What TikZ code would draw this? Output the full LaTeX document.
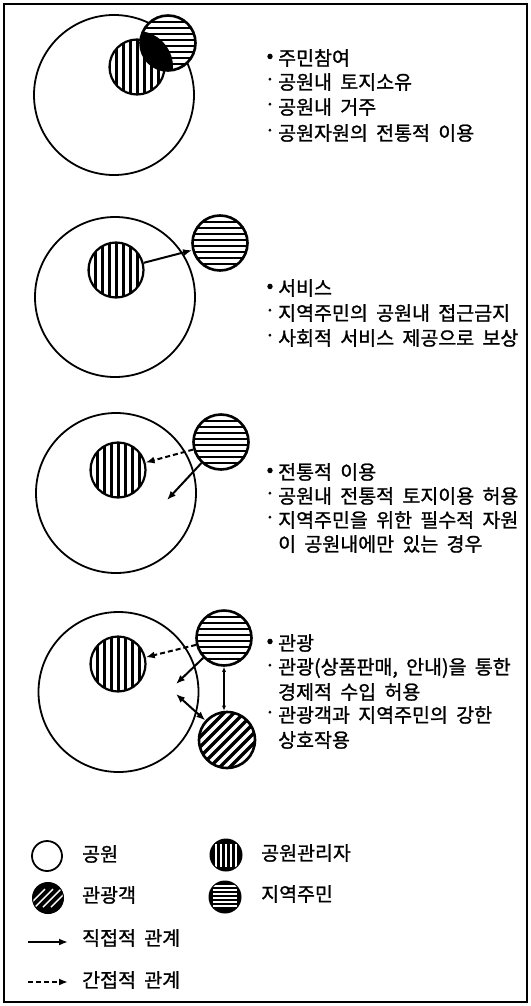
\documentclass[tikz,border=0pt]{standalone}
\usepackage{fontspec}
\setmainfont{Noto Sans CJK KR}[WordSpace=1.9,FakeBold=1.2]
\usetikzlibrary{arrows.meta}
\begin{document}
\begin{tikzpicture}[x=1pt,y=-1pt,
  park/.style={circle,draw,line width=1.8pt,minimum size=160pt,inner sep=0pt},
  mgr/.style={circle,draw,line width=2.2pt,fill=white,minimum size=55pt,inner sep=0pt,
    path picture={\foreach \i in {-28,-21,...,28}
      \draw[line width=3pt,black] ([xshift=\i pt]path picture bounding box.north) -- ([xshift=\i pt]path picture bounding box.south);}},
  res/.style={circle,draw,line width=2.6pt,fill=white,minimum size=55pt,inner sep=0pt,
    path picture={\foreach \i in {-27,-21,...,27}
      \draw[line width=2.8pt,black] ([yshift=\i pt]path picture bounding box.west) -- ([yshift=\i pt]path picture bounding box.east);}},
  tour/.style={circle,draw,line width=2.6pt,fill=white,minimum size=56pt,inner sep=0pt,
    path picture={\foreach \i in {-60,-50,...,60}
      \draw[line width=3.4pt,black] ([xshift=\i pt]path picture bounding box.center) ++(-40,40) -- ++(80,-80);}},
  lpark/.style={circle,draw,line width=1.8pt,minimum size=30pt,inner sep=0pt},
  lmgr/.style={circle,draw,fill=black,line width=1pt,minimum size=32pt,inner sep=0pt,
    path picture={\foreach \i in {-10,-5,...,10}
      \draw[line width=1.3pt,white] ([xshift=\i pt,yshift=-5pt]path picture bounding box.north) -- ([xshift=\i pt,yshift=4pt]path picture bounding box.south);}},
  lres/.style={circle,draw,fill=black,line width=1pt,minimum size=32pt,inner sep=0pt,
    path picture={\foreach \i in {-9,-5,...,11}
      \draw[line width=1.2pt,white] ([xshift=4pt,yshift=\i pt]path picture bounding box.west) -- ([xshift=-4pt,yshift=\i pt]path picture bounding box.east);}},
  ltour/.style={circle,draw,fill=black,line width=1pt,minimum size=31pt,inner sep=0pt,
    path picture={\foreach \i in {-12,-4,4,12}
      \draw[line width=1.4pt,white] ([xshift=\i pt]path picture bounding box.center) ++(-9,9) -- ++(18,-18);}},
  dirarrow/.style={line width=2pt,-{Latex[length=9pt,width=7pt]}},
  indarrow/.style={line width=2pt,dash pattern=on 5pt off 3pt,-{Latex[length=9pt,width=7pt]}},
  dblarrow/.style={line width=2pt,{Latex[length=9pt,width=7pt]}-{Latex[length=9pt,width=7pt]}},
  smalldbl/.style={line width=2pt,{Latex[length=5pt,width=4pt]}-{Latex[length=5pt,width=4pt]}},
  txt/.style={anchor=west,inner sep=0pt,font=\fontsize{19.5pt}{22pt}\selectfont},
  bul/.style={anchor=center,inner sep=0pt,font=\fontsize{19.5pt}{22pt}\selectfont}
]
\useasboundingbox (0,0) rectangle (530,1006);
\draw[line width=1.3pt] (4,4) rectangle (527,1002);

% Panel 1
\node[park] (p1) at (114,95) {};
\node[mgr] (m1) at (137,67) {};
\node[res] (r1) at (168,43) {};
\begin{scope}
  \clip (r1.center) circle (28);
  \fill (m1.center) circle (36);
\end{scope}
\node[bul] (b11) at (270,58) {•};
\node[txt] (t11) at (278,58) {주민참여};
\node[bul] (b12) at (270,82) {·};
\node[txt] (t12) at (278,82) {공원내 토지소유};
\node[bul] (b13) at (270,107) {·};
\node[txt] (t13) at (278,107) {공원내 거주};
\node[bul] (b14) at (270,133) {·};
\node[txt] (t14) at (278,133) {공원자원의 전통적 이용};

% Panel 2
\node[park] (p2) at (115,297) {};
\node[mgr] (m2) at (116,270) {};
\node[res] (r2) at (220,243) {};
\draw[dirarrow] (m2) -- (r2);
\node[bul] (b21) at (270,288) {•};
\node[txt] (t21) at (278,288) {서비스};
\node[bul] (b22) at (270,313) {·};
\node[txt] (t22) at (278,313) {지역주민의 공원내 접근금지};
\node[bul] (b23) at (270,338) {·};
\node[txt] (t23) at (278,338) {사회적 서비스 제공으로 보상};

% Panel 3
\node[park] (p3) at (116,493) {};
\node[mgr] (m3) at (118,470) {};
\node[res] (r3) at (221,442) {};
\coordinate (q3) at (167,500);
\draw[indarrow] (r3) -- (m3);
\draw[dirarrow] (r3) -- (q3);
\node[bul] (b31) at (270,472) {•};
\node[txt] (t31) at (278,472) {전통적 이용};
\node[bul] (b32) at (270,496) {·};
\node[txt] (t32) at (278,496) {공원내 전통적 토지이용 허용};
\node[bul] (b33) at (270,520) {·};
\node[txt] (t33) at (278,520) {지역주민을 위한 필수적 자원};
\node[txt] (t34) at (278,544) {이 공원내에만 있는 경우};

% Panel 4
\node[park] (p4) at (118.5,692) {};
\node[mgr] (m4) at (118,664) {};
\node[res] (r4) at (224,638) {};
\node[tour] (u4) at (227,740) {};
\coordinate (q4a) at (176,684);
\coordinate (q4b) at (176,694);
\draw[indarrow] (r4) -- (m4);
\draw[dirarrow] (r4) -- (q4a);
\draw[dblarrow] (u4) -- (q4b);
\draw[smalldbl] (r4.south) -- (r4.south |- u4.north);
\node[bul] (b41) at (270,643) {•};
\node[txt] (t41) at (278,643) {관광};
\node[bul] (b42) at (270,668) {·};
\node[txt] (t42) at (278,668) {관광(상품판매, 안내)을 통한};
\node[txt] (t43) at (278,692) {경제적 수입 허용};
\node[bul] (b44) at (270,715) {·};
\node[txt] (t44) at (278,715) {관광객과 지역주민의 강한};
\node[txt] (t45) at (278,740) {상호작용};

% Legend
\node[lpark] (lp) at (47,856) {};
\node[txt] (lpt) at (82,854) {공원};
\node[ltour] (lt) at (48,898) {};
\node[txt] (ltt) at (82,895) {관광객};
\node[lmgr] (lm) at (226,855) {};
\node[txt] (lmt) at (261,853) {공원관리자};
\node[lres] (lr) at (225,897) {};
\node[txt] (lrt) at (261,894) {지역주민};
\coordinate (da) at (28,942);
\coordinate (db) at (68,942);
\draw[dirarrow] (da) -- (db);
\node[txt] (ldt) at (82,938) {직접적 관계};
\coordinate (ia) at (28,982);
\coordinate (ib) at (68,982);
\draw[indarrow] (ia) -- (ib);
\node[txt] (lit) at (82,980) {간접적 관계};
\end{tikzpicture}
\end{document}
